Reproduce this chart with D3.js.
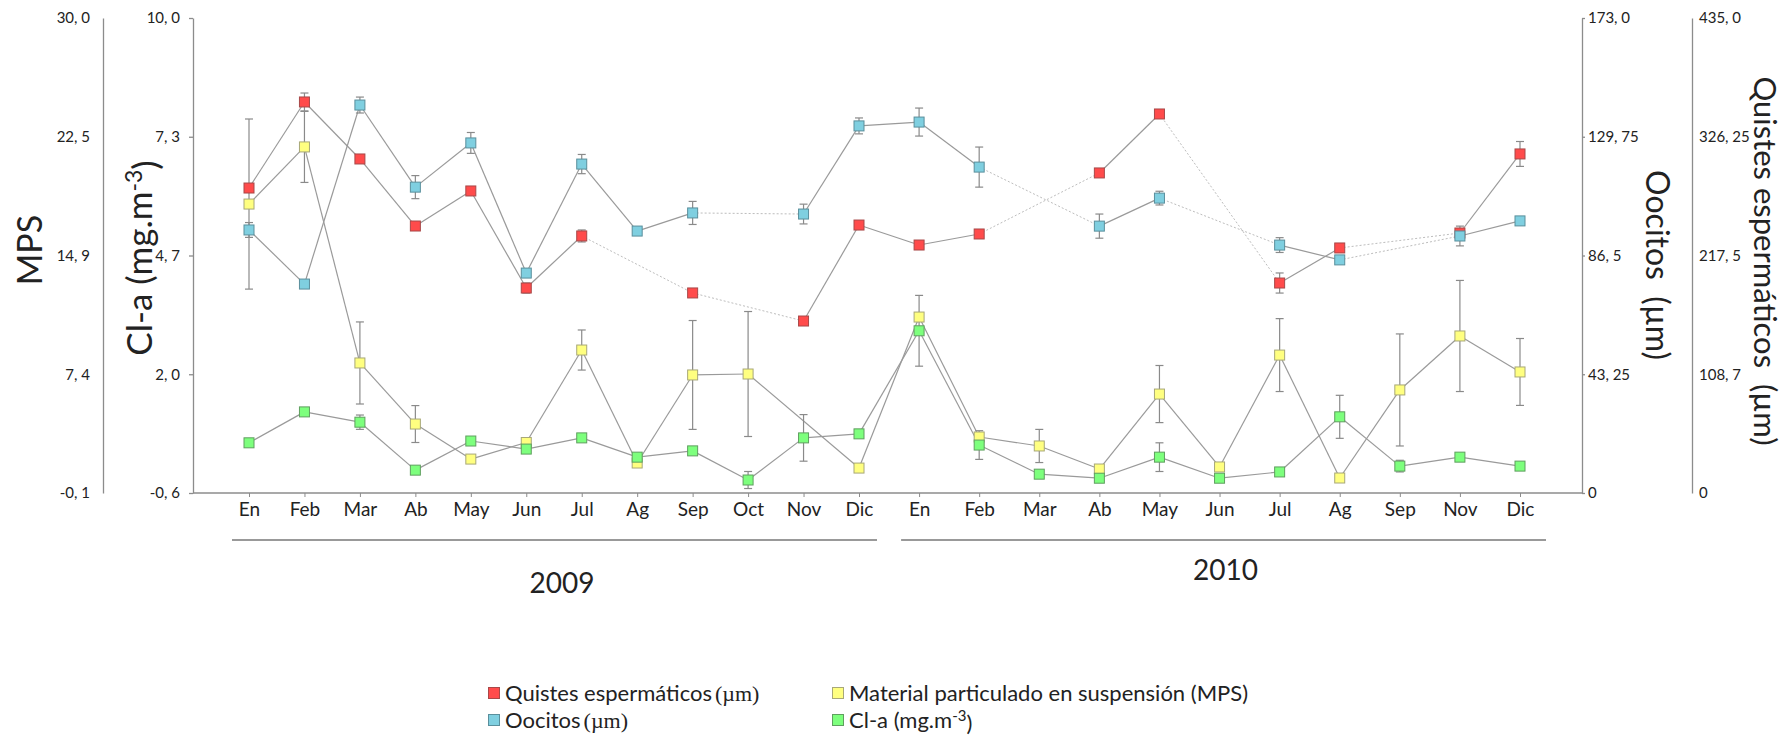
<!DOCTYPE html>
<html>
<head>
<meta charset="utf-8">
<script src="https://cdn.jsdelivr.net/npm/d3@7"></script>
<style>
  body { margin: 0; background: #fff; }
  text { font-family: Lato, "Open Sans", sans-serif; fill: #222; }
</style>
</head>
<body>
<div class="chart"></div>
<script>
// categories (no October sample in 2010)
var months2009 = ["En","Feb","Mar","Ab","May","Jun","Jul","Ag","Sep","Oct","Nov","Dic"];
var months2010 = ["En","Feb","Mar","Ab","May","Jun","Jul","Ag","Sep","Nov","Dic"];
var months = months2009.concat(months2010);
var years = ["2009", "2010"];

// series values, null = missing sample
var quistes    = [279.3, 358.1, 305.9, 244.5, 276.6, 187.7, 235.4, null, 183.2, null, 157.5, 245.4, 227.1, 237.2, null, 293.1, 347.1, null, 192.3, 224.4, null, 238.1, 310.5];
var quistesErr = [0, 8.2, 0, 0, 0, 4.6, 5.5, 0, 0, 0, 0, 0, 0, 0, 0, 2.7, 2.7, 0, 9.2, 3.7, 0, 0, 11.4];

var oocitos    = [95.8, 76.1, 141.3, 111.4, 127.5, 80.1, 119.8, 95.4, 102.0, null, 101.6, 133.7, 135.1, 118.7, null, 97.2, 107.4, null, 90.3, 84.9, null, 93.6, 99.1];
var oocitosErr = [2.7, 0.5, 2.9, 4.2, 3.8, 1.5, 3.5, 1.1, 4.2, 0, 3.6, 2.9, 5.1, 7.3, 0, 4.4, 2.5, 0, 2.7, 0.7, 0, 3.6, 0];

var mps    = [18.21, 21.83, 8.14, 4.27, 2.05, 3.1, 8.96, 1.80, 7.38, 7.44, null, 1.48, 11.05, 3.45, 2.88, 1.42, 6.17, 1.55, 8.64, 0.85, 6.43, 9.85, 7.57];
var mpsErr = [5.39, 2.25, 2.60, 1.17, 0, 0.2, 1.27, 0.2, 3.45, 3.96, 0, 0, 0, 0, 1.05, 0, 1.81, 0, 2.31, 0, 3.55, 3.52, 2.12];

var cla    = [0.52, 1.21, 0.98, -0.09, 0.56, 0.38, 0.63, 0.20, 0.34, -0.31, 0.63, 0.72, 3.02, 0.47, -0.18, -0.27, 0.20, -0.27, -0.13, 1.10, 0.00, 0.20, 0.00];
var claErr = [0, 0, 0.16, 0, 0, 0, 0, 0, 0, 0.19, 0.52, 0, 0.79, 0.32, 0, 0, 0.32, 0, 0, 0.48, 0.13, 0, 0];

// axis ticks and labels
var claTicks = [-0.6, 2.05, 4.7, 7.35, 10];
var claLabels = ["-0, 6", "2, 0", "4, 7", "7, 3", "10, 0"];
var mpsTicks = [-0.1, 7.425, 14.95, 22.475, 30];
var mpsLabels = ["-0, 1", "7, 4", "14, 9", "22, 5", "30, 0"];
var oocTicks = [0, 43.25, 86.5, 129.75, 173];
var oocLabels = ["0", "43, 25", "86, 5", "129, 75", "173, 0"];
var quiTicks = [0, 108.75, 217.5, 326.25, 435];
var quiLabels = ["0", "108, 7", "217, 5", "326, 25", "435, 0"];

var margin = {top: 18, left: 193},
    width = 1389,
    height = 475,
    axisColor = "#8c8c8c";

var svg = d3.select(".chart")
  .append("svg")
    .attr("width", 1786)
    .attr("height", 738);

var g = svg.append("g")
    .attr("transform", "translate(" + margin.left + "," + margin.top + ")");

// 2009 months are a bit tighter than 2010 ones in the original
var x = d3.scaleLinear()
    .domain([0, 11, 22])
    .range([56, 666, 1327]);

var yCla = d3.scaleLinear().domain([-0.6, 10]).range([height, 0]);
var yMps = d3.scaleLinear().domain([-0.1, 30]).range([height, 0]);
var yOoc = d3.scaleLinear().domain([0, 173]).range([height, 0]);
var yQui = d3.scaleLinear().domain([0, 435]).range([height, 0]);

function styleAxis(sel) {
  sel.selectAll("path, line").attr("stroke", axisColor).attr("stroke-width", 1.3);
  sel.selectAll("text").style("font-size", "15px").attr("fill", "#333")
     .style("font-family", "Lato, sans-serif");
}

// left axes
g.append("g")
    .attr("transform", "translate(-90,0)")
    .call(d3.axisLeft(yMps).tickValues(mpsTicks)
      .tickFormat(function(d, i) { return mpsLabels[i]; })
      .tickSize(0).tickPadding(13).tickSizeOuter(0))
    .call(styleAxis);

g.append("g")
    .call(d3.axisLeft(yCla).tickValues(claTicks)
      .tickFormat(function(d, i) { return claLabels[i]; })
      .tickSize(4).tickPadding(9).tickSizeOuter(0))
    .call(styleAxis);

// right axes
g.append("g")
    .attr("transform", "translate(" + width + ",0)")
    .call(d3.axisRight(yOoc).tickValues(oocTicks)
      .tickFormat(function(d, i) { return oocLabels[i]; })
      .tickSize(3).tickPadding(3).tickSizeOuter(0))
    .call(styleAxis);

g.append("g")
    .attr("transform", "translate(1499,0)")
    .call(d3.axisRight(yQui).tickValues(quiTicks)
      .tickFormat(function(d, i) { return quiLabels[i]; })
      .tickSize(0).tickPadding(7).tickSizeOuter(0))
    .call(styleAxis);

// x axis
var xaxis = g.append("g")
    .attr("transform", "translate(0," + height + ")")
    .call(d3.axisBottom(x).tickValues(d3.range(months.length))
      .tickFormat(function(i) { return months[i]; })
      .tickSize(4).tickPadding(6).tickSizeOuter(0));
xaxis.select(".domain").remove();
xaxis.append("line")
    .attr("x1", 0).attr("x2", width)
    .attr("stroke", axisColor).attr("stroke-width", 1.5);
xaxis.selectAll("line").attr("stroke", axisColor);
xaxis.selectAll("text").style("font-size", "19px").attr("fill", "#111")
    .style("font-family", "Lato, sans-serif");

// year separators
var yearLines = g.append("g");
yearLines.append("line")
    .attr("x1", x(0) - 17).attr("x2", x(11) + 18)
    .attr("y1", 522).attr("y2", 522);
yearLines.append("line")
    .attr("x1", x(12) - 18).attr("x2", x(22) + 26)
    .attr("y1", 522).attr("y2", 522);
yearLines.selectAll("line").attr("stroke", "#999").attr("stroke-width", 2);

g.append("text")
    .attr("x", (x(0) + x(11)) / 2 + 8).attr("y", 565)
    .attr("text-anchor", "middle").attr("dy", "0.35em")
    .style("font-size", "28px").text(years[0]);
g.append("text")
    .attr("x", (x(12) + x(22)) / 2 + 6).attr("y", 552)
    .attr("text-anchor", "middle").attr("dy", "0.35em")
    .style("font-size", "28px").text(years[1]);

// axis titles
svg.append("text")
    .attr("transform", "translate(30,250) rotate(-90)")
    .attr("text-anchor", "middle").attr("dy", "0.35em")
    .style("font-size", "34px").text("MPS");

var claTitle = svg.append("text")
    .attr("transform", "translate(140,258) rotate(-90)")
    .attr("text-anchor", "middle").attr("dy", "0.35em")
    .style("font-size", "35px");
claTitle.append("tspan").text("Cl-a (mg.m");
claTitle.append("tspan").attr("dy", "-0.45em").style("font-size", "23px").text("-3");
claTitle.append("tspan").attr("dy", "0.45em").text(")");

svg.append("text")
    .attr("transform", "translate(1657,265) rotate(90)")
    .attr("text-anchor", "middle").attr("dy", "0.35em")
    .style("font-size", "32px").attr("xml:space", "preserve")
    .text("Oocitos  (µm)");

svg.append("text")
    .attr("transform", "translate(1765,261) rotate(90)")
    .attr("text-anchor", "middle").attr("dy", "0.35em")
    .style("font-size", "31px").attr("xml:space", "preserve")
    .text("Quistes espermáticos  (µm)");

// series
var series = [
  {values: quistes, err: quistesErr, y: yQui, fill: "#ff4b4b", stroke: "#a84848", dotGap: true},
  {values: oocitos, err: oocitosErr, y: yOoc, fill: "#7fcfe0", stroke: "#5a8f9c", dotGap: true},
  {values: mps,     err: mpsErr,     y: yMps, fill: "#ffff80", stroke: "#a8a878", dotGap: false},
  {values: cla,     err: claErr,     y: yCla, fill: "#7dff7d", stroke: "#5f9f5f", dotGap: false}
];

var lines = g.append("g"), bars = g.append("g"), marks = g.append("g");

series.forEach(function(s) {
  var pts = s.values.map(function(v, i) { return {i: i, v: v}; })
      .filter(function(d) { return d.v !== null; });

  lines.selectAll(null)
    .data(d3.pairs(pts))
    .join("line")
      .attr("x1", function(p) { return x(p[0].i); })
      .attr("y1", function(p) { return s.y(p[0].v); })
      .attr("x2", function(p) { return x(p[1].i); })
      .attr("y2", function(p) { return s.y(p[1].v); })
      .each(function(p) {
        var gap = s.dotGap && p[1].i - p[0].i > 1;
        d3.select(this)
          .attr("stroke", gap ? "#bdbdbd" : "#9a9a9a")
          .attr("stroke-width", gap ? 1 : 1.2)
          .attr("stroke-dasharray", gap ? "2,2" : null);
      });

  var withErr = pts.filter(function(d) { return s.err[d.i] > 0; });
  withErr.forEach(function(d) {
    var e = s.err[d.i], cx = x(d.i),
        y0 = s.y(d.v - e), y1 = s.y(d.v + e);
    var eb = bars.append("g").attr("stroke", "#8a8a8a").attr("stroke-width", 1.2);
    eb.append("line").attr("x1", cx).attr("x2", cx).attr("y1", y0).attr("y2", y1);
    eb.append("line").attr("x1", cx - 4).attr("x2", cx + 4).attr("y1", y0).attr("y2", y0);
    eb.append("line").attr("x1", cx - 4).attr("x2", cx + 4).attr("y1", y1).attr("y2", y1);
  });
});

series.forEach(function(s) {
  var pts = s.values.map(function(v, i) { return {i: i, v: v}; })
      .filter(function(d) { return d.v !== null; });
  marks.selectAll(null)
    .data(pts)
    .join("rect")
      .attr("x", function(d) { return x(d.i) - 5; })
      .attr("y", function(d) { return s.y(d.v) - 5; })
      .attr("width", 10).attr("height", 10)
      .attr("fill", s.fill)
      .attr("stroke", s.stroke)
      .attr("stroke-width", 1);
});

// legend
var legendItems = [
  {fill: "#ff4b4b", stroke: "#a84848", label: "Quistes espermáticos", unit: "(µm)", lx: 494, ly: 693},
  {fill: "#7fcfe0", stroke: "#5a8f9c", label: "Oocitos", unit: "(µm)", lx: 494, ly: 720},
  {fill: "#ffff80", stroke: "#a8a878", label: "Material particulado en suspensión (MPS)", unit: null, lx: 838, ly: 693},
  {fill: "#7dff7d", stroke: "#5f9f5f", label: "Cl-a (mg.m", unit: null, sup: "-3", lx: 838, ly: 720}
];

var legend = svg.append("g");
legendItems.forEach(function(d) {
  legend.append("rect")
    .attr("x", d.lx - 5.5).attr("y", d.ly - 5.5)
    .attr("width", 11).attr("height", 11)
    .attr("fill", d.fill).attr("stroke", d.stroke);
  var t = legend.append("text")
    .attr("x", d.lx + 11).attr("y", d.ly)
    .attr("dy", "0.35em")
    .style("font-size", "22px");
  t.append("tspan").text(d.label);
  if (d.unit) {
    t.append("tspan").attr("dx", 3)
      .style("font-family", "'Liberation Serif', 'DejaVu Serif', serif")
      .text(d.unit);
  }
  if (d.sup) {
    t.append("tspan").attr("dy", "-0.45em").style("font-size", "15px").text(d.sup);
    t.append("tspan").attr("dy", "0.45em").text(")");
  }
});
</script>
</body>
</html>
